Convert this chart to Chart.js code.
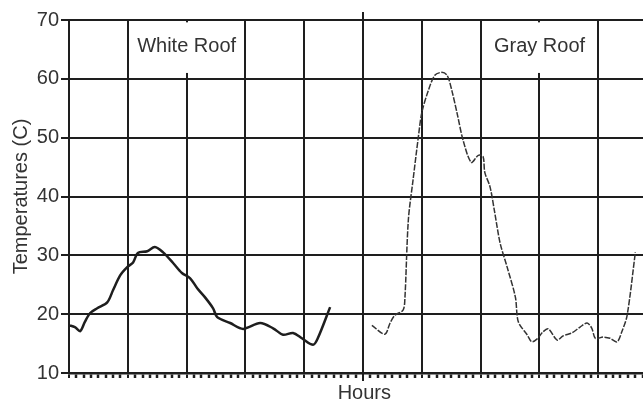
<!DOCTYPE html>
<html>
<head>
<meta charset="utf-8">
<script src="https://cdn.jsdelivr.net/npm/chart.js@4/dist/chart.umd.min.js"></script>
<style>
  body { margin: 0; background: #fff; }
  #wrap { width: 643px; height: 403px; }
</style>
</head>
<body>
<div id="wrap"><canvas id="roofChart"></canvas></div>
<script>
// Hours (one grid cell = one unit) and temperatures
const whiteHours = [0, 0.10, 0.19, 0.27, 0.36, 0.48, 0.65, 0.75, 0.87, 0.99, 1.09, 1.17, 1.33, 1.46, 1.60, 1.77, 1.92, 2.06, 2.18, 2.31, 2.45, 2.52, 2.74, 2.96, 3.25, 3.47, 3.64, 3.81, 3.96, 4.15, 4.23, 4.44];
const whiteTemps = [18.1, 17.8, 17.1, 18.7, 20.2, 21.0, 22.0, 24.1, 26.6, 28.0, 28.8, 30.4, 30.7, 31.4, 30.5, 28.7, 27.0, 26.1, 24.4, 22.9, 21.0, 19.5, 18.5, 17.5, 18.5, 17.6, 16.5, 16.8, 15.9, 14.8, 15.9, 21.2];

const grayHours = [5.15, 5.37, 5.46, 5.54, 5.68, 5.71, 5.77, 5.85, 5.94, 6.00, 6.11, 6.22, 6.34, 6.43, 6.51, 6.60, 6.70, 6.84, 6.96, 7.04, 7.07, 7.16, 7.24, 7.33, 7.45, 7.59, 7.64, 7.79, 7.87, 7.96, 8.06, 8.15, 8.30, 8.40, 8.55, 8.69, 8.81, 8.89, 8.95, 9.08, 9.20, 9.32, 9.40, 9.49, 9.63];
const grayTemps = [18.1, 16.6, 18.5, 19.8, 20.7, 22.4, 36.0, 42.8, 50.1, 54.3, 58.0, 60.6, 61.1, 60.6, 58.0, 54.1, 49.6, 45.8, 47.0, 46.8, 44.1, 41.6, 37.2, 32.1, 28.0, 22.9, 18.7, 16.5, 15.3, 15.8, 17.0, 17.5, 15.6, 16.3, 16.8, 17.8, 18.5, 17.6, 15.9, 16.1, 15.9, 15.3, 17.0, 19.8, 30.5];

const yTicks = [10, 20, 30, 40, 50, 60, 70];
const panelLabels = ["White Roof", "Gray Roof"];
const panelLabelHours = [2, 8];

const ink = "#1e1e1e";
const font = "'Liberation Sans', Arial, sans-serif";

function toPoints(xs, ys) {
  return xs.map((x, i) => ({ x: x, y: ys[i] }));
}

function isWhole(v) {
  return Math.abs(v - Math.round(v)) < 1e-6;
}

// Long divider in the middle and the two boxed labels
const decorations = {
  id: "decorations",
  afterDraw(chart) {
    const ctx = chart.ctx;
    const x = chart.scales.x;
    const y = chart.scales.y;
    ctx.save();
    ctx.strokeStyle = ink;
    ctx.lineWidth = 2;
    const mid = Math.round(x.getPixelForValue(5));
    ctx.beginPath();
    ctx.moveTo(mid, y.top - 8);
    ctx.lineTo(mid, y.bottom + 8);
    ctx.stroke();

    ctx.font = "20px " + font;
    ctx.textAlign = "center";
    ctx.textBaseline = "middle";
    panelLabels.forEach((label, i) => {
      const cx = x.getPixelForValue(panelLabelHours[i]);
      const w = ctx.measureText(label).width + 6;
      const top = y.getPixelForValue(69.6);
      const bottom = y.getPixelForValue(61);
      ctx.fillStyle = "#fff";
      ctx.fillRect(cx - w / 2, top, w, bottom - top);
      ctx.fillStyle = "#333";
      ctx.fillText(label, cx, y.getPixelForValue(65.5));
    });
    ctx.restore();
  }
};

new Chart(document.getElementById("roofChart"), {
  type: "line",
  data: {
    datasets: [
      {
        label: panelLabels[0],
        data: toPoints(whiteHours, whiteTemps),
        borderColor: ink,
        borderWidth: 2.5,
        pointRadius: 0,
        tension: 0.3,
        fill: false
      },
      {
        label: panelLabels[1],
        data: toPoints(grayHours, grayTemps),
        borderColor: "#333",
        borderWidth: 1.5,
        borderDash: [6, 1.5],
        pointRadius: 0,
        tension: 0.3,
        fill: false
      }
    ]
  },
  options: {
    responsive: true,
    maintainAspectRatio: false,
    animation: false,
    layout: { padding: { top: 20, right: 0, bottom: 0, left: 0 } },
    plugins: {
      legend: { display: false },
      tooltip: { enabled: false }
    },
    scales: {
      x: {
        type: "linear",
        min: 0,
        max: 9.76,
        ticks: { stepSize: 0.125, display: false },
        grid: {
          color: ctx => isWhole(ctx.tick.value) ? ink : "rgba(0,0,0,0)",
          lineWidth: 2,
          tickColor: ink,
          tickWidth: ctx => isWhole(ctx.tick.value) ? 2 : 2.5,
          tickLength: 5
        },
        border: { color: ink, width: 2.5 },
        title: {
          display: true,
          text: "   Hours",
          color: "#333",
          font: { family: font, size: 20, lineHeight: 1 },
          padding: { top: 0, bottom: 0 }
        },
        afterFit: scale => { scale.height = 30; }
      },
      y: {
        min: 10,
        max: 70,
        afterBuildTicks: scale => { scale.ticks = yTicks.map(v => ({ value: v })); },
        ticks: {
          color: "#333",
          padding: 2,
          font: { family: font, size: 20 }
        },
        grid: { color: ink, lineWidth: 2, tickLength: 8 },
        border: { color: ink, width: 2 },
        title: {
          display: true,
          text: "Temperatures (C)",
          color: "#333",
          font: { family: font, size: 20 },
          padding: { top: 9, bottom: 0 }
        },
        afterFit: scale => { scale.width = 69; }
      }
    }
  },
  plugins: [decorations]
});
</script>
</body>
</html>
